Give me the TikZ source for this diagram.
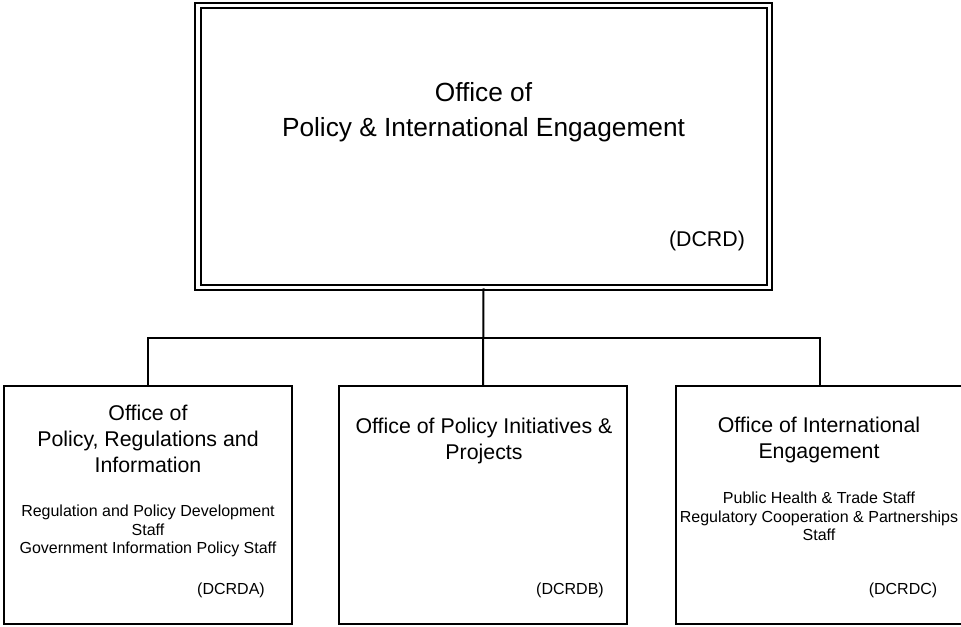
\documentclass[tikz,border=0pt]{standalone}
\usepackage{fontspec}
\setmainfont{Liberation Sans}
\begin{document}
\begin{tikzpicture}[x=0.75pt,y=-0.75pt,
  box/.style={draw, line width=1.5pt, minimum width=216pt, minimum height=178.5pt, inner sep=0pt},
  toptitle/.style={font=\fontsize{19.7}{26.2}\selectfont, align=center, inner sep=0pt},
  subtitle/.style={font=\fontsize{16}{19.5}\selectfont, align=center, inner sep=0pt},
  staff/.style={font=\fontsize{12}{13.9}\selectfont, align=center, inner sep=0pt},
  code/.style={font=\fontsize{12}{14}\selectfont, inner sep=0pt},
  codebig/.style={font=\fontsize{16}{19}\selectfont, inner sep=0pt},
  conn/.style={draw, line width=1.5pt}]
\useasboundingbox (0,0) rectangle (961,626);
% top box (double border)
\node[draw, line width=1.5pt, double, double distance=2.6pt, minimum width=428.6pt, minimum height=211.5pt, inner sep=0pt] (top) at (483.5,146.25) {};
\node[toptitle] (toptxt) at (483.5,112) {Office of\\Policy \& International Engagement};
\node[codebig] (topcode) at (707,241) {(DCRD)};
% child boxes
\node[box] (b1) at (147.5,505) {};
\node[box] (b2) at (483,505) {};
\node[box] (b3) at (819.75,505) {};
% connectors
\coordinate (bus) at (0,338);
\draw[conn] (top.south) -- (b2.north);
\draw[conn] (b1.north) |- (bus -| b2.north) -| (b3.north);
% box 1
\node[subtitle] (b1t) at (148,439) {Office of\\Policy, Regulations and\\Information};
\node[staff] (b1s) at (148,531) {Regulation and Policy Development\\Staff\\Government Information Policy Staff};
\node[code] (b1c) at (231,590) {(DCRDA)};
% box 2
\node[subtitle] (b2t) at (484,441) {Office of Policy Initiatives \&\\Projects};
\node[code] (b2c) at (570,590) {(DCRDB)};
% box 3
\node[subtitle] (b3t) at (819,440) {Office of International\\Engagement};
\node[staff] (b3s) at (819,516.5) {Public Health \& Trade Staff\\Regulatory Cooperation \& Partnerships\\Staff};
\node[code] (b3c) at (903,590) {(DCRDC)};
\end{tikzpicture}
\end{document}
